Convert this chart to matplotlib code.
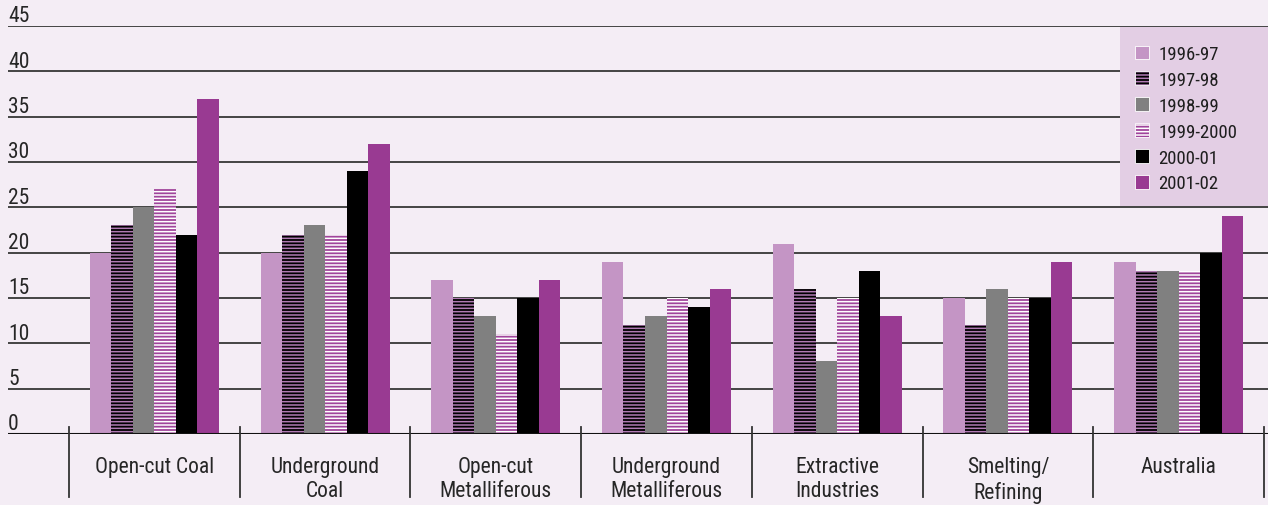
import matplotlib
matplotlib.use("Agg")
import matplotlib.pyplot as plt
import numpy as np
from matplotlib import font_manager

# Data: rates by sector and financial year
categories = ["Open-cut Coal", "Underground\nCoal", "Open-cut\nMetalliferous",
              "Underground\nMetalliferous", "Extractive\nIndustries",
              "Smelting/\nRefining", "Australia"]
years = ["1996-97", "1997-98", "1998-99", "1999-2000", "2000-01", "2001-02"]
v_1996_97 = [20, 20, 17, 19, 21, 15, 19]
v_1997_98 = [23, 22, 15, 12, 16, 12, 18]
v_1998_99 = [25, 23, 13, 13, 8, 16, 18]
v_1999_2000 = [27, 22, 11, 15, 15, 15, 18]
v_2000_01 = [22, 29, 15, 14, 18, 15, 20]
v_2001_02 = [37, 32, 17, 16, 13, 19, 24]
y_ticks = [0, 5, 10, 15, 20, 25, 30, 35, 40, 45]

series = [v_1996_97, v_1997_98, v_1998_99, v_1999_2000, v_2000_01, v_2001_02]
styles = [
    dict(facecolor="#C495C5", hatch=None, hcolor=None),
    dict(facecolor="#000000", hatch="-----", hcolor="#B07AB3"),
    dict(facecolor="#808080", hatch=None, hcolor=None),
    dict(facecolor="#A0449B", hatch="-----", hcolor="#FFFFFF"),
    dict(facecolor="#000000", hatch=None, hcolor=None),
    dict(facecolor="#993A92", hatch=None, hcolor=None),
]

# Prefer a condensed sans face
installed = {f.name for f in font_manager.fontManager.ttflist}
candidates = ["Liberation Sans Narrow", "Roboto Condensed", "Archivo Narrow",
              "PT Sans Narrow", "IBM Plex Sans Condensed", "Liberation Sans"]
main_font = next(c for c in candidates if c in installed or c == "Liberation Sans")
plt.rcParams["font.family"] = [main_font, "DejaVu Sans"]
plt.rcParams["hatch.linewidth"] = 1.1

BG = "#F4EDF5"
TXT = "#262626"
W, H = 1268, 506
fig = plt.figure(figsize=(W / 100, H / 100), dpi=100, facecolor=BG)
ax = fig.add_axes([8 / W, 1 - 435 / H, 1 - 8 / W, (435 - 27) / H])
ax.set_facecolor(BG)

group_px = 170.7
left = -0.5 - (69 - 8) / group_px
right = 6.5 + (W - 1264) / group_px
ax.set_xlim(left, right)
ax.set_ylim(0, 45)

# Horizontal grid lines with value labels sitting above them
for t in y_ticks[1:]:
    ax.axhline(t, color="#444444", lw=1.4, zorder=1)
for t in y_ticks:
    ax.text(0, t + 0.5, str(t), transform=ax.get_yaxis_transform(),
            ha="left", va="baseline", fontsize=15.5, color=TXT)
ax.axhline(0, color="#111111", lw=1.5, zorder=4)

# Grouped bars
x = np.arange(len(categories))
bw = 0.126
handles = []
for i, (vals, st) in enumerate(zip(series, styles)):
    pos = x + (i - 2.5) * bw
    bars = ax.bar(pos, vals, width=bw, color=st["facecolor"], linewidth=0,
                  zorder=3, label=years[i])
    if st["hatch"]:
        for b in bars:
            b.set_hatch(st["hatch"])
            b.set_edgecolor(st["hcolor"])
            b.set_linewidth(0)
            b._hatch_color = matplotlib.colors.to_rgba(st["hcolor"])
    handles.append(bars)

# Category separators below the axis
for s in np.arange(-0.5, len(categories), 1.0):
    ax.plot([s, s], [0.017, -0.154], transform=ax.get_xaxis_transform(),
            color="#333333", lw=1.3, clip_on=False, zorder=5)

ax.set_xticks(x)
ax.set_xticklabels(categories, fontsize=15.5, color=TXT, linespacing=1.2)
ax.tick_params(axis="x", length=0, pad=16)
ax.set_yticks([])
for sp in ax.spines.values():
    sp.set_visible(False)

# Legend panel
panel_x0 = (1120 - 8) / (W - 8)
ax.add_patch(plt.Rectangle((panel_x0, 25 / 45 + 0.003), 1 - panel_x0, 20 / 45 - 0.006,
                           transform=ax.transAxes, facecolor="#E3CEE4",
                           edgecolor="none", zorder=2))
leg = ax.legend(handles=handles, loc="upper left",
                bbox_to_anchor=(1135 / W, 1 - 46 / H), bbox_transform=fig.transFigure,
                frameon=False, fontsize=13.5, handlelength=0.75, handleheight=0.75,
                handletextpad=0.5, labelspacing=0.42, borderpad=0, borderaxespad=0)
for t in leg.get_texts():
    t.set_color("#1e1e1e")
for h, st in zip(leg.legend_handles, styles):
    h.set_edgecolor("white")
    h.set_linewidth(0.6)
    if st["hatch"]:
        h._hatch_color = matplotlib.colors.to_rgba(st["hcolor"])
leg.set_zorder(6)

fig.savefig("out.png", dpi=100, facecolor=BG)
